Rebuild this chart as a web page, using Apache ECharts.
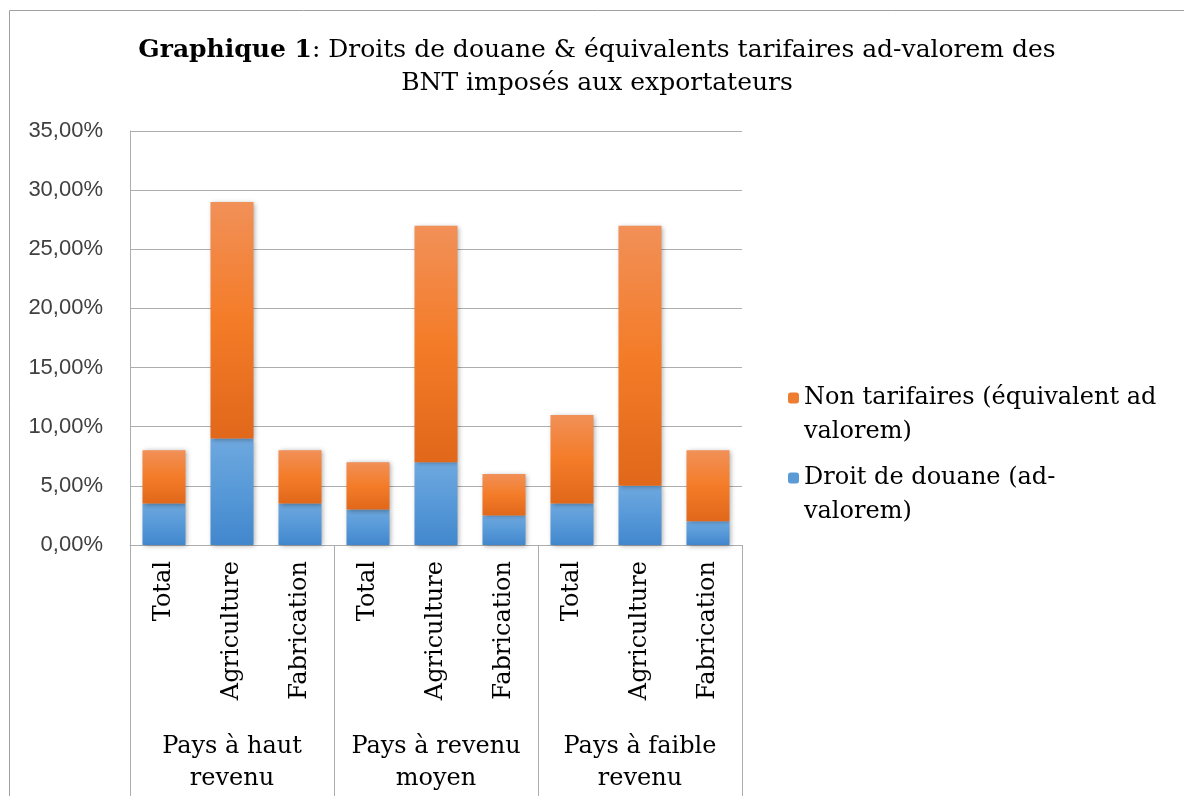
<!DOCTYPE html>
<html>
<head>
<meta charset="utf-8">
<script src="https://cdn.jsdelivr.net/npm/echarts@6/dist/echarts.min.js"></script>
<style>
  html, body { margin: 0; padding: 0; background: #fff; }
  #chart { width: 1184px; height: 796px; }
</style>
</head>
<body>
<div id="chart"></div>
<script>
const sectors = ['Total', 'Agriculture', 'Fabrication', 'Total', 'Agriculture', 'Fabrication', 'Total', 'Agriculture', 'Fabrication']
const groups = ['Pays à haut\nrevenu', 'Pays à revenu\nmoyen', 'Pays à faible\nrevenu']
const droitDouane = [0.035, 0.09, 0.035, 0.03, 0.07, 0.025, 0.035, 0.05, 0.02]
const nonTarifaires = [0.045, 0.20, 0.045, 0.04, 0.20, 0.035, 0.075, 0.22, 0.06]

const serif = '"DejaVu Serif", serif'
const gridColor = '#adadad'

const chart = echarts.init(document.getElementById('chart'))

function gradient(stops) {
  return new echarts.graphic.LinearGradient(0, 0, 0, 1,
    stops.map((c, i) => ({ offset: i / (stops.length - 1), color: c })))
}

const barShadow = {
  shadowBlur: 5,
  shadowColor: 'rgba(0, 0, 0, 0.35)',
  shadowOffsetX: 1,
  shadowOffsetY: 1,
}

const nameNT = 'Non tarifaires (équivalent ad\nvalorem)'
const nameDD = 'Droit de douane (ad-\nvalorem)'

// blank first line so that the icon sits against the first text line
const legendBase = {
  orient: 'vertical',
  left: 788,
  padding: 0,
  itemWidth: 11,
  itemHeight: 11,
  formatter: name => ' \n' + name,
  textStyle: { fontFamily: serif, fontSize: 24, lineHeight: 34, color: '#000' },
}

chart.setOption({
  animation: false,
  title: {
    left: 597,
    top: 34,
    padding: 0,
    textAlign: 'center',
    text: '{b|Graphique 1}{n|: Droits de douane & équivalents tarifaires ad-valorem des}\n{n|BNT imposés aux exportateurs}',
    textStyle: {
      fontWeight: 'normal',
      rich: {
        b: { fontFamily: serif, fontSize: 25, fontWeight: 'bold', color: '#000', lineHeight: 33 },
        n: { fontFamily: serif, fontSize: 25, fontWeight: 'normal', color: '#000', lineHeight: 33 },
      },
    },
  },
  graphic: [{
    type: 'rect',
    shape: { x: 9.5, y: 10.5, width: 1400, height: 1000 },
    style: { fill: 'none', stroke: '#a0a0a0', lineWidth: 1 },
    silent: true,
  }],
  legend: [
    Object.assign({ top: 347, data: [{ name: nameNT, itemStyle: { color: '#ed7d31' } }] }, legendBase),
    Object.assign({ top: 427, data: [{ name: nameDD, itemStyle: { color: '#5b9bd5' } }] }, legendBase),
  ],
  grid: { left: 130, right: 442, top: 131, bottom: 251 },
  xAxis: [
    {
      type: 'category',
      data: sectors,
      axisLine: { show: true, lineStyle: { color: gridColor } },
      axisTick: { show: false },
      axisLabel: {
        rotate: 90,
        margin: 16,
        interval: 0,
        fontFamily: serif,
        fontSize: 24,
        color: '#000',
      },
    },
    {
      type: 'category',
      data: groups,
      position: 'bottom',
      axisLine: { show: false },
      axisTick: { show: true, interval: 0, length: 251, lineStyle: { color: gridColor } },
      axisLabel: {
        interval: 0,
        margin: 186,
        fontFamily: serif,
        fontSize: 24,
        lineHeight: 32,
        color: '#000',
      },
    },
  ],
  yAxis: {
    type: 'value',
    min: 0,
    max: 0.35,
    interval: 0.05,
    axisLine: { show: true, lineStyle: { color: gridColor } },
    axisTick: { show: false },
    splitLine: { lineStyle: { color: gridColor } },
    axisLabel: {
      margin: 27,
      fontFamily: '"Liberation Sans", sans-serif',
      fontSize: 22,
      color: '#404040',
      formatter: v => (v * 100).toFixed(2).replace('.', ',') + '%',
    },
  },
  series: [
    {
      name: nameDD,
      type: 'bar',
      stack: 'total',
      barWidth: 43,
      data: droitDouane,
      itemStyle: Object.assign({ color: gradient(['#6ea8df', '#5799d8', '#4287cd']) }, barShadow),
    },
    {
      name: nameNT,
      type: 'bar',
      stack: 'total',
      barWidth: 43,
      data: nonTarifaires,
      itemStyle: Object.assign({ color: gradient(['#f19058', '#f47c28', '#e1671a']) }, barShadow),
    },
  ],
})
</script>
</body>
</html>
